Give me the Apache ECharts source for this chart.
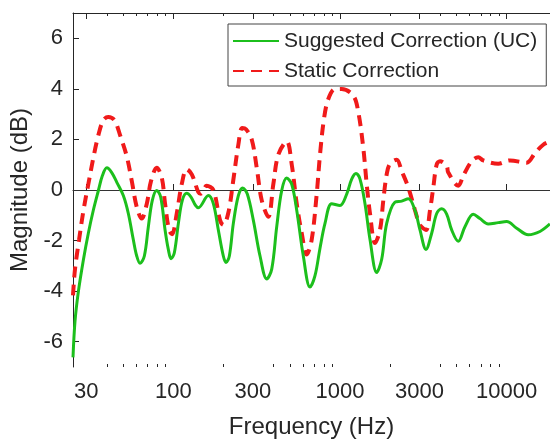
<!DOCTYPE html>
<html>
<head>
<meta charset="utf-8">
<script src="https://cdn.jsdelivr.net/npm/echarts@6/dist/echarts.min.js"></script>
<style>
html,body{margin:0;padding:0;background:#fff;}
#chart{width:550px;height:444px;}
</style>
</head>
<body>
<div id="chart"></div>
<script>
// Frequencies in Hz, magnitudes in dB
const freqUC = [25,25.7,26.9,28.9,30.9,33.1,35.5,37.5,39.9,42.7,45.8,50.1,53.7,57.5,60.3,63.1,67.0,70.8,74.8,79.5,84.0,89.2,93.3,96.9,101.4,107.2,113.2,120.3,127.7,136.2,141.3,162.2,173.8,186.2,199.5,207.1,216.8,229.1,245.5,260.8,277.9,301.9,331.3,363.4,389.4,417.2,447.0,479.0,513.3,550.0,602.5,660.7,707.9,758.6,812.8,891.9,1000,1097,1175.5,1247.4,1318.3,1412.5,1513.6,1660.3,1779.1,1906.3,2137.9,2345.2,2569.8,2817.5,3019.2,3280.9,3549.7,3803.7,4074.7,4366,4678,5124,5620,6305,6915,7754,8903,10000,11481,13478,15840,18190];
const magUC = [-6.62,-5.2,-4.04,-2.74,-1.71,-0.8,-0.02,0.56,0.88,0.69,0.30,-0.22,-0.93,-1.96,-2.61,-2.9,-2.61,-1.45,-0.41,-0.02,-0.28,-1.58,-2.35,-2.72,-2.48,-1.32,-0.41,-0.13,-0.28,-0.62,-0.70,-0.22,-0.54,-1.58,-2.61,-2.87,-2.61,-1.32,-0.22,0.08,-0.16,-1.19,-2.61,-3.52,-3.13,-1.45,-0.02,0.47,0.23,-0.80,-2.61,-3.84,-3.39,-2.3,-1.32,-0.54,-0.61,-0.16,0.43,0.65,0.43,-0.54,-1.96,-3.26,-2.74,-1.32,-0.48,-0.44,-0.35,-0.8,-1.58,-2.35,-1.71,-0.93,-0.74,-0.95,-1.58,-2.03,-1.45,-0.96,-1.13,-1.34,-1.29,-1.25,-1.51,-1.77,-1.64,-1.34];

const freqStatic = [25,25.7,27.2,28.9,30.9,33.1,35.5,38.0,40.7,44.3,47.9,52.5,56.3,60.3,64.6,69.3,73.5,79.5,85.2,89.2,94.2,98.2,104.8,112.3,120.3,129.0,141.3,146,158.6,173.8,190.6,199.5,213.8,229.1,245.5,259,273,295.3,316.5,339.2,371.5,398.1,426.5,479.0,513.3,550.0,589.3,631.3,676.4,724.8,758.6,801.7,851.0,933.3,1023.8,1201.8,1287.7,1379.8,1446.1,1513.6,1621.8,1737.8,1818.9,1906.3,1995,2188.7,2345.2,2569.8,2817.5,3019.2,3280.9,3467,3629,3803.7,3981,4366,4463,5124,5490,6167,6755,7236,8903,10466,13183,14784,16580,18190];
const magStatic = [-4.17,-3.13,-1.96,-0.8,0.23,1.27,2.17,2.76,2.89,2.76,2.17,1.34,0.36,-0.67,-1.13,-0.54,0.36,0.88,0.49,-0.54,-1.58,-1.75,-0.93,0.23,0.82,0.62,-0.09,-0.15,0.17,0.0,-1.19,-1.38,-0.9,0.4,1.79,2.45,2.4,2.0,0.88,-0.41,-1.06,0.23,1.4,1.92,1.01,-0.54,-1.71,-2.55,-1.96,-0.16,1.4,2.82,3.6,3.99,3.99,3.73,3.08,1.66,0.23,-0.93,-2.1,-1.58,-0.41,0.62,1.04,1.2,0.75,0.1,-0.8,-1.38,-1.58,-0.8,0.1,1.01,1.14,0.95,0.69,0.17,0.56,1.14,1.3,1.17,1.04,1.17,1.08,1.46,1.79,1.92];

const xTickLabels = [30,100,300,1000,3000,10000];
const xMinorTicks = [40,50,60,70,80,90,200,400,500,600,700,800,900,2000,4000,5000,6000,7000,8000,9000];
const yTickLabels = [-6,-4,-2,0,2,4,6];

const FONT = "'Liberation Sans', Arial, sans-serif";
const INK = '#262626';
const GREEN = '#1cbf1c';
const RED = '#f01a1a';
const lg = v => Math.log10(v);
const xMin = lg(25), xMax = lg(18200);

function xAxisBase(pos, ticks, len, showLine, showLabel){
  return {
    type:'value', position:pos, min:xMin, max:xMax,
    axisLine:{show:showLine, lineStyle:{color:INK, width:1}},
    axisTick:{show:true, inside:true, length:len, customValues:ticks.map(lg), lineStyle:{color:INK, width:1}},
    axisLabel:{show:showLabel, customValues:xTickLabels.map(lg), margin:14,
      formatter:v=>String(Math.round(Math.pow(10,v))),
      fontSize:22, color:INK, fontFamily:FONT},
    splitLine:{show:false}
  };
}

const xMain = xAxisBase('bottom', xTickLabels, 6, true, true);
xMain.name = 'Frequency (Hz)';
xMain.nameLocation = 'middle';
xMain.nameGap = 48;
xMain.nameTextStyle = {fontSize:24, color:INK, fontFamily:FONT};

const chart = echarts.init(document.getElementById('chart'), null, {renderer:'canvas'});
chart.setOption({
  animation:false,
  backgroundColor:'#fff',
  grid:{left:73, right:0, top:13, bottom:71, containLabel:false},
  legend:{
    orient:'vertical', left:228, top:24,
    backgroundColor:'#fff', borderColor:'#444', borderWidth:1,
    padding:[5,9,3,4], itemGap:6, itemWidth:46, itemHeight:14,
    textStyle:{fontSize:21, lineHeight:24, color:INK, fontFamily:FONT},
    data:[
      {name:'Suggested Correction (UC)', itemStyle:{color:'transparent', borderWidth:0, opacity:0}},
      {name:'Static Correction', itemStyle:{color:'transparent', borderWidth:0, opacity:0}}
    ]
  },
  xAxis:[
    xMain,
    xAxisBase('bottom', xMinorTicks, 3, false, false),
    xAxisBase('top', xTickLabels, 6, true, false),
    xAxisBase('top', xMinorTicks, 3, false, false)
  ],
  yAxis:{
    type:'value', min:-7, max:7,
    name:'Magnitude (dB)', nameLocation:'middle', nameGap:36,
    nameTextStyle:{fontSize:24, color:INK, fontFamily:FONT},
    axisLine:{show:true, lineStyle:{color:INK, width:1}},
    axisTick:{show:true, inside:true, length:6, customValues:yTickLabels, lineStyle:{color:INK}},
    axisLabel:{customValues:yTickLabels, fontSize:22, color:INK, fontFamily:FONT, margin:10},
    splitLine:{show:false}
  },
  series:[
    {
      name:'Suggested Correction (UC)', type:'line', xAxisIndex:0,
      data:freqUC.map((f,i)=>[lg(f), magUC[i]]),
      showSymbol:false, symbol:'none', smooth:0.35,
      lineStyle:{color:GREEN, width:3},
      itemStyle:{color:GREEN},
      z:3,
      markLine:{silent:true, symbol:'none', label:{show:false},
        lineStyle:{color:'#333', width:1, type:'solid'},
        data:[{yAxis:0}], z:1}
    },
    {
      name:'Static Correction', type:'line', xAxisIndex:0,
      data:freqStatic.map((f,i)=>[lg(f), magStatic[i]]),
      showSymbol:false, symbol:'none', smooth:0.35,
      lineStyle:{color:RED, width:4, type:[11,7]},
      itemStyle:{color:RED},
      z:2
    }
  ]
});
</script>
</body>
</html>
